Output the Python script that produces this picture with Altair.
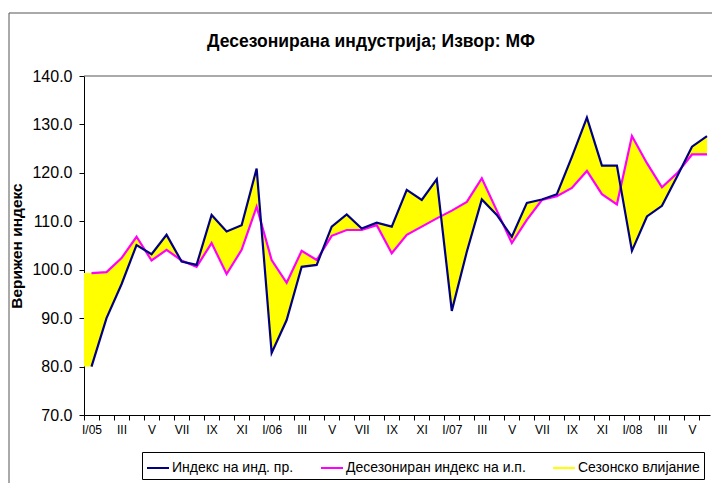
import json
import altair as alt
import pandas as pd

# ---- data (monthly, I/2005 .. VI/2008) ----
years = ["05", "06", "07", "08"]
roman = ["I", "II", "III", "IV", "V", "VI", "VII", "VIII", "IX", "X", "XI", "XII"]

index_ip = [80.0, 90.0, 97.0, 105.1, 103.2, 107.2, 101.7, 101.0, 111.3, 107.9, 109.2, 120.9,
            82.8, 89.6, 100.6, 101.0, 108.9, 111.4, 108.5, 109.7, 108.9, 116.5, 114.4, 118.7,
            91.5, 103.7, 114.5, 111.3, 106.8, 113.8, 114.5, 115.6, 123.3, 131.4, 121.5, 121.5,
            103.9, 111.0, 113.2, 119.2, 125.4, 127.6]
deseason = [99.3, 99.5, 102.4, 106.8, 101.9, 104.1, 101.9, 100.6, 105.5, 99.1, 104.1, 113.0,
            102.0, 97.3, 103.9, 102.0, 107.0, 108.2, 108.2, 109.2, 103.4, 107.2, 108.9, 110.6,
            112.2, 114.0, 118.9, 112.2, 105.5, 110.3, 114.4, 115.2, 116.9, 120.4, 115.6, 113.5,
            127.6, 122.0, 117.0, 119.9, 123.8, 123.8]

series_names = ["Индекс на инд. пр.", "Десезониран индекс на и.п.", "Сезонско влијание"]
series_colors = ["#000080", "#FF00FF", "#FFFF00"]
y_ticks = [70, 80, 90, 100, 110, 120, 130, 140]

n = len(index_ip)
month_labels = []
for i in range(n):
    m = i % 12
    month_labels.append(roman[m] + ("/" + years[i // 12] if m == 0 else ""))
tick_labels = [lab if i % 2 == 0 else "" for i, lab in enumerate(month_labels)]

df = pd.DataFrame({"k": list(range(n)), "index": index_ip, "deseason": deseason})
# the filled band starts at the left edge of the first category
area_df = pd.concat([df.iloc[[0]].assign(k=-0.5), df], ignore_index=True)
pink_df = pd.DataFrame({"k": list(range(n)), "v": deseason, "series": series_names[1]})
blue_df = pd.DataFrame({"k": list(range(n)), "v": index_ip, "series": series_names[0]})

W, H = 626, 339
X_MAX = 41.2
half_cat = W / (X_MAX + 0.5) / 2

FONT = "Liberation Sans"

x_scale = alt.Scale(domain=[-0.5, X_MAX], nice=False, zero=False)
y_scale = alt.Scale(domain=[70, 140], nice=False, zero=False)

x_axis = alt.Axis(
    values=list(range(n)),
    labelExpr=json.dumps(tick_labels, ensure_ascii=False) + "[datum.value]",
    tickOffset=-half_cat, labelOffset=half_cat,
    labelOverlap=False, labelFlush=False, labelAngle=0, labelSeparation=0,
    tickSize=5, labelPadding=4, labelFont=FONT, labelFontSize=12,
    labelColor="black", domainColor="black", tickColor="black",
    grid=False, title=None,
)
y_axis = alt.Axis(
    values=y_ticks, format=".1f", tickSize=5, labelPadding=7,
    labelFont=FONT, labelFontSize=16, labelColor="black",
    domainColor="black", tickColor="black", grid=False,
    title="Верижен индекс", titleFont="Liberation Sans", titleFontSize=15.5,
    titleFontWeight="bold", titleColor="black", titlePadding=7,
)

X = alt.X("k:Q", scale=x_scale, axis=x_axis)

color_scale = alt.Scale(domain=series_names, range=series_colors)
legend = alt.Legend(
    title=None, orient="none", legendX=58, legendY=376, direction="horizontal",
    strokeColor="black", fillColor="white", padding=4,
    symbolType="stroke", symbolSize=484, symbolStrokeWidth=2,
    labelFont=FONT, labelFontSize=14, labelColor="black", labelOffset=2,
    labelLimit=400, columnPadding=23,
)

border = alt.Chart(pd.DataFrame({"a": [0]})).mark_rect(
    filled=False, stroke="#555555", strokeWidth=1
).encode(
    x=alt.value(-75), x2=alt.value(W + 40), y=alt.value(-63), y2=alt.value(H + 110)
)

area = alt.Chart(area_df).mark_area(color="#FFFF00", opacity=1).encode(
    x=X,
    y=alt.Y("deseason:Q", scale=y_scale, axis=y_axis),
    y2="index:Q",
)

top_line = alt.Chart(pd.DataFrame({"a": [0]})).mark_rule(color="#555555", strokeWidth=1).encode(
    y=alt.datum(140), x=alt.value(0), x2=alt.value(W + 20)
)

pink = alt.Chart(pink_df).mark_line(strokeWidth=2.2).encode(
    x=X, y=alt.Y("v:Q", scale=y_scale, axis=y_axis),
    color=alt.Color("series:N", scale=color_scale, legend=legend),
)
blue = alt.Chart(blue_df).mark_line(strokeWidth=2.2).encode(
    x=X, y=alt.Y("v:Q", scale=y_scale, axis=y_axis),
    color=alt.Color("series:N", scale=color_scale, legend=legend),
)

chart = alt.layer(border, area, top_line, pink, blue).properties(
    width=W, height=H,
    title=alt.TitleParams(
        "Десезонирана индустрија; Извор: МФ", font="Liberation Sans", fontSize=17.5,
        fontWeight="bold", color="black", anchor="middle", frame="group",
        dx=-26, dy=42,
    ),
    padding={"left": 76, "top": 68, "right": 2, "bottom": 68},
    autosize=alt.AutoSizeParams(type="none"),
    background="white",
).configure_view(stroke="transparent").configure_axisX(labelOverlap=False)

chart.save("out.html", embed_options={"renderer": "svg", "actions": False})
